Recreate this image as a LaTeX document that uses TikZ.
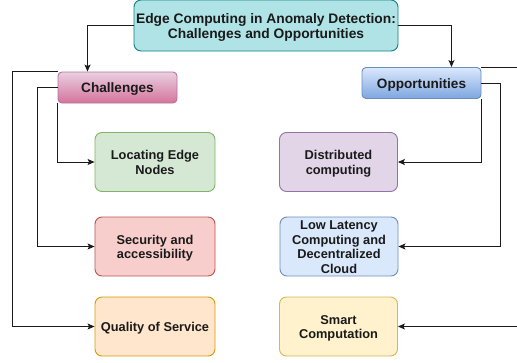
\documentclass[tikz,border=0pt]{standalone}
\usepackage{fontspec}
\setmainfont{Liberation Sans}
\usetikzlibrary{arrows.meta,calc}
\definecolor{txt}{HTML}{1A1A1A}
\definecolor{linec}{HTML}{1A1A1A}
\definecolor{topF}{HTML}{B0E3E6}\definecolor{topD}{HTML}{0E8088}
\definecolor{chT}{HTML}{E9D0DF}\definecolor{chB}{HTML}{D5739D}\definecolor{chD}{HTML}{B5739D}
\definecolor{opT}{HTML}{DAE8FC}\definecolor{opB}{HTML}{7EA6E0}\definecolor{opD}{HTML}{6C8EBF}
\definecolor{grF}{HTML}{D5E8D4}\definecolor{grD}{HTML}{82B366}
\definecolor{rdF}{HTML}{F8CECC}\definecolor{rdD}{HTML}{B85450}
\definecolor{orF}{HTML}{FFE6CC}\definecolor{orD}{HTML}{D79B00}
\definecolor{puF}{HTML}{E1D5E7}\definecolor{puD}{HTML}{9673A6}
\definecolor{blF}{HTML}{DAE8FC}\definecolor{blD}{HTML}{6C8EBF}
\definecolor{ylF}{HTML}{FFF2CC}\definecolor{ylD}{HTML}{D6B656}
\newcommand\lowtxt[1]{\raisebox{-2.2pt}[\height][\depth]{\begin{tabular}{@{}c@{}}#1\end{tabular}}}
\tikzset{
  box/.style={draw, line width=0.9pt, rounded corners=7pt, minimum height=59pt, inner sep=0pt, text=txt,
    font=\fontsize{12.8}{14.4}\selectfont\bfseries},
  hdr/.style={draw, line width=0.9pt, rounded corners=4pt, minimum width=119pt, minimum height=31pt, inner sep=0pt, text=txt,
    font=\fontsize{13.6}{15}\selectfont\bfseries},
  conn/.style={draw=linec, line width=0.9pt, -{Stealth[length=7pt,width=6pt,inset=1.5pt]}},
}
\begin{document}
\begin{tikzpicture}[x=1pt,y=-1pt]
\useasboundingbox (0,0) rectangle (517,362);
% title
\node[hdr, minimum width=264pt, minimum height=51pt, rounded corners=7pt, fill=topF, draw=topD,
  font=\fontsize{13.8}{15}\selectfont\bfseries] (top) at (266,25.5) {\lowtxt{Edge Computing in Anomaly Detection:\\Challenges and Opportunities}};
% headers
\node[hdr, top color=chT, bottom color=chB, draw=chD] (ch) at (117.5,87.5) {\lowtxt{Challenges}};
\node[hdr, top color=opT, bottom color=opB, draw=opD] (op) at (421.5,83) {\lowtxt{Opportunities}};
% left column
\node[box, minimum width=120pt, fill=grF, draw=grD] (loc) at (155,162) {\lowtxt{Locating Edge\\Nodes}};
\node[box, minimum width=120pt, fill=rdF, draw=rdD] (sec) at (155,246.5) {\lowtxt{Security and\\accessibility}};
\node[box, minimum width=120pt, fill=orF, draw=orD] (qos) at (155,326.5) {\lowtxt{Quality of Service}};
% right column
\node[box, minimum width=118pt, fill=puF, draw=puD] (dist) at (338.5,162) {\lowtxt{Distributed\\computing}};
\node[box, minimum width=118pt, fill=blF, draw=blD] (low) at (339,246.5) {\lowtxt{Low Latency\\Computing and\\Decentralized\\Cloud}};
\node[box, minimum width=118pt, fill=ylF, draw=ylD] (smart) at (338.5,326.5) {\lowtxt{Smart\\Computation}};
% connectors
\draw[conn] (top.west) -| ($(ch.north west)!0.25!(ch.north east)$);
\draw[conn] (top.east) -| ($(op.north west)!0.75!(op.north east)$);
\draw[conn] (ch.south west) |- (loc.west);
\draw[conn] (ch.west) -- ++(-20,0) |- (sec.west);
\draw[conn] (ch.north west) -- ++(-45,0) |- (qos.west);
\draw[conn] (op.south east) |- (dist.east);
\draw[conn] (op.east) -- ++(19,0) |- (low.east);
\draw[conn] (op.north east) -- ++(40,0) |- (smart.east);
\end{tikzpicture}
\end{document}
